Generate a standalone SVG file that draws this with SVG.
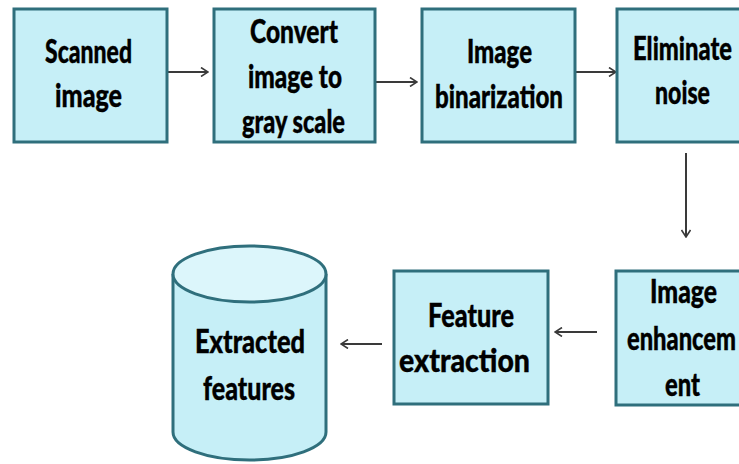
<svg xmlns="http://www.w3.org/2000/svg" width="739" height="464" viewBox="0 0 739 464">
  <defs>
    <style>
      .box { fill: #c6eff7; stroke: #2f6f7c; stroke-width: 3; }
      .cyl-top { fill: #dcf6fb; stroke: #2f6f7c; stroke-width: 3; }
      .lbl { font-family: Lato, "Open Sans", "Liberation Sans", sans-serif; font-weight: 900; font-size: 32px; fill: #000; stroke: #000; stroke-width: 0.4px; }
      .edge { stroke: #3a3a3a; stroke-width: 2; fill: none; marker-end: url(#chev); }
    </style>
    <marker id="chev" viewBox="0 0 10 10" refX="9" refY="5" markerWidth="10" markerHeight="10" markerUnits="userSpaceOnUse" orient="auto">
      <path d="M2,0.5 L9,5 L2,9.5" fill="none" stroke="#3a3a3a" stroke-width="1.6"/>
    </marker>
  </defs>
  <rect width="739" height="464" fill="#ffffff"/>

  <g id="connectors">
    <line class="edge" x1="168" y1="72" x2="208" y2="72"/>
    <line class="edge" x1="376" y1="82" x2="417" y2="82"/>
    <line class="edge" x1="576" y1="72" x2="616" y2="72"/>
    <line class="edge" x1="686" y1="153" x2="686" y2="237"/>
    <line class="edge" x1="597" y1="332" x2="555" y2="332"/>
    <line class="edge" x1="382" y1="344" x2="341" y2="344"/>
  </g>

  <g id="scanned-image">
    <rect class="box" x="14" y="9" width="153" height="133"/>
    <text class="lbl" x="45" y="63" textLength="87" lengthAdjust="spacingAndGlyphs">Scanned</text>
    <text class="lbl" x="55" y="107" textLength="67" lengthAdjust="spacingAndGlyphs">image</text>
  </g>

  <g id="gray-scale">
    <rect class="box" x="214" y="9" width="161" height="133"/>
    <text class="lbl" x="250" y="43" textLength="88" lengthAdjust="spacingAndGlyphs">Convert</text>
    <text class="lbl" x="248" y="88" textLength="94" lengthAdjust="spacingAndGlyphs">image to</text>
    <text class="lbl" x="242" y="133" textLength="103" lengthAdjust="spacingAndGlyphs">gray scale</text>
  </g>

  <g id="binarization">
    <rect class="box" x="422" y="9" width="153" height="133"/>
    <text class="lbl" x="467" y="63" textLength="65" lengthAdjust="spacingAndGlyphs">Image</text>
    <text class="lbl" x="435" y="108" textLength="128" lengthAdjust="spacingAndGlyphs">binarization</text>
  </g>

  <g id="eliminate-noise">
    <rect class="box" x="617" y="9" width="153" height="133"/>
    <text class="lbl" x="633" y="60" textLength="99" lengthAdjust="spacingAndGlyphs">Eliminate</text>
    <text class="lbl" x="655" y="104" textLength="55" lengthAdjust="spacingAndGlyphs">noise</text>
  </g>

  <g id="enhancement">
    <rect class="box" x="616" y="271" width="153" height="134"/>
    <text class="lbl" x="650" y="303" textLength="67" lengthAdjust="spacingAndGlyphs">Image</text>
    <text class="lbl" x="627" y="350" textLength="109" lengthAdjust="spacingAndGlyphs">enhancem</text>
    <text class="lbl" x="665" y="396" textLength="35" lengthAdjust="spacingAndGlyphs">ent</text>
  </g>

  <g id="feature-extraction">
    <rect class="box" x="394" y="271" width="154" height="133"/>
    <text class="lbl" x="428" y="327" textLength="86" lengthAdjust="spacingAndGlyphs">Feature</text>
    <text class="lbl" x="399" y="372" textLength="131" lengthAdjust="spacingAndGlyphs">extraction</text>
  </g>

  <g id="extracted-features">
    <path class="box" d="M173,274 L173,432 A76.5,28 0 0 0 326,432 L326,274"/>
    <ellipse class="cyl-top" cx="249.5" cy="274" rx="76.5" ry="28"/>
    <text class="lbl" x="195" y="353" textLength="110" lengthAdjust="spacingAndGlyphs">Extracted</text>
    <text class="lbl" x="203" y="400" textLength="92" lengthAdjust="spacingAndGlyphs">features</text>
  </g>
</svg>
